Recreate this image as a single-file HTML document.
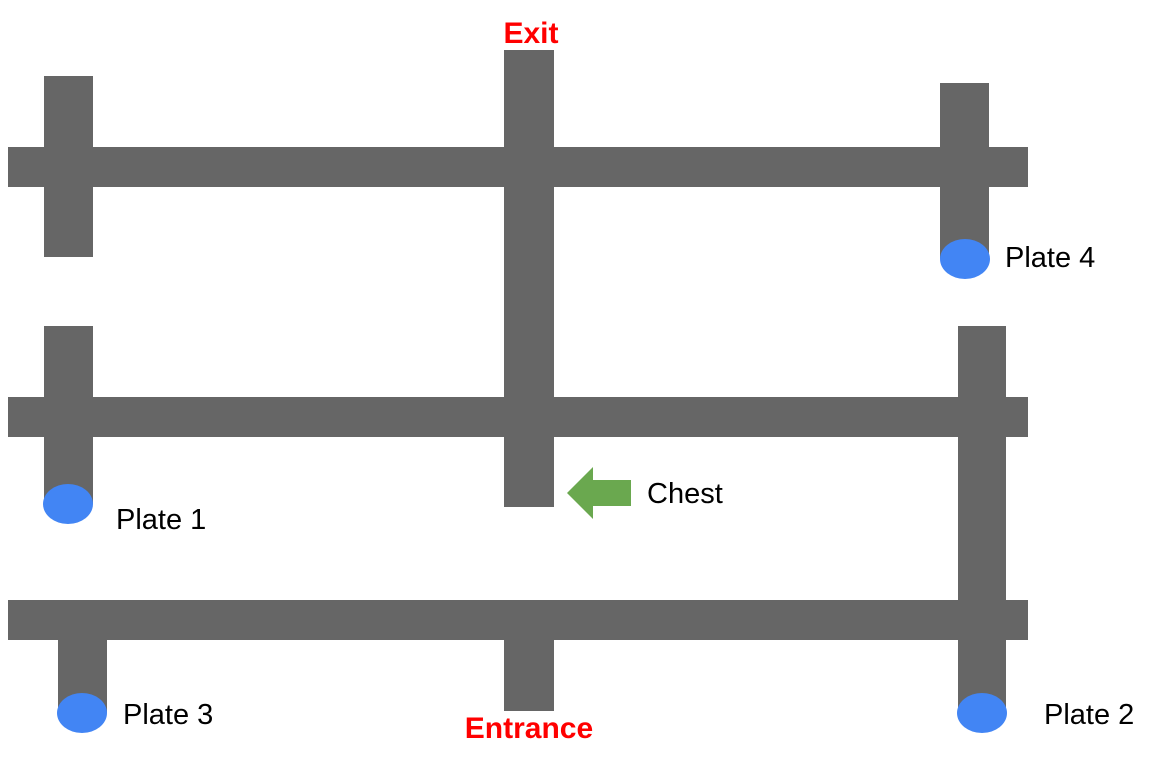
<!DOCTYPE html>
<html><head><meta charset="utf-8"><style>
body{margin:0;background:#fff}
svg{display:block}
text{font-family:"Liberation Sans",Arial,sans-serif}
</style></head><body>
<svg width="1154" height="757" viewBox="0 0 1154 757">
<g fill="#666666">
<rect x="8" y="147" width="1020" height="40"/>
<rect x="8" y="397" width="1020" height="40"/>
<rect x="8" y="600" width="1020" height="40"/>
<rect x="44" y="76" width="49" height="181"/>
<rect x="504" y="50" width="50" height="457"/>
<rect x="940" y="83" width="49" height="176"/>
<rect x="44" y="326" width="49" height="178"/>
<rect x="958" y="326" width="48" height="387"/>
<rect x="58" y="640" width="49" height="73"/>
<rect x="504" y="640" width="50" height="71"/>
</g>
<g fill="#4285f4">
<ellipse cx="965" cy="259" rx="25" ry="20"/>
<ellipse cx="68" cy="504" rx="25" ry="20"/>
<ellipse cx="82" cy="713" rx="25" ry="20"/>
<ellipse cx="982" cy="713" rx="25" ry="20"/>
</g>
<polygon fill="#6aa84f" points="567,493 593,467 593,480 631,480 631,506 593,506 593,519"/>
<g font-size="29" fill="#000">
<text x="1005" y="267">Plate 4</text>
<text x="116" y="529">Plate 1</text>
<text x="123" y="724">Plate 3</text>
<text x="1044" y="724">Plate 2</text>
<text x="647" y="503">Chest</text>
</g>
<g font-size="30" font-weight="bold" fill="#ff0000" text-anchor="middle">
<text x="531" y="43">Exit</text>
<text x="529" y="738">Entrance</text>
</g>
</svg>
</body></html>
